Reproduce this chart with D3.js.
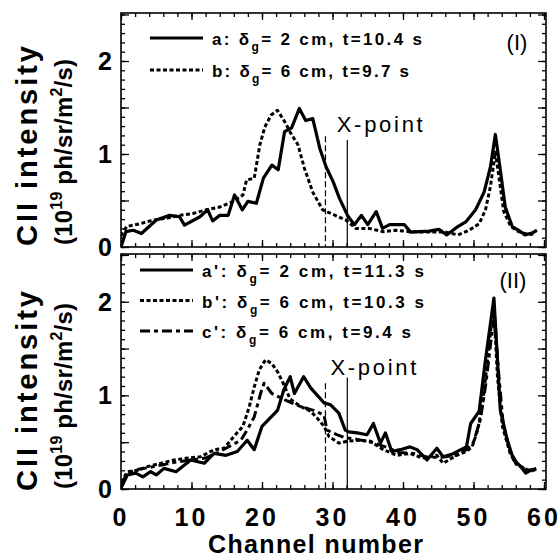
<!DOCTYPE html>
<html>
<head>
<meta charset="utf-8">
<script src="https://cdn.jsdelivr.net/npm/d3@7"></script>
<style>
body { margin: 0; background: #fff; }
text { font-family: "Liberation Sans", Arial, Helvetica, sans-serif; }
</style>
</head>
<body>
<div id="chart"></div>
<script>
// panel (I)
var chA = [0, 0.7, 1.75, 2.9, 5.0, 6.9, 8.3, 9.0, 11.2, 12.3, 13.0, 14.0, 15.2, 16.1, 17.2, 18.0, 19.2, 20.2, 21.4, 22.3, 23.2, 24.2, 25.3, 26.2, 27.2, 28.2, 29.1, 30.1, 31.0, 32.2, 33.1, 34.1, 35.0, 36.2, 37.1, 38.1, 39.2, 40.2, 41.1, 42.3, 43.7, 45.1, 46.2, 47.6, 48.9, 50.3, 51.5, 52.4, 53.1, 53.8, 54.5, 55.5, 56.4, 57.3, 58.3, 59.0];
var valA = [0, 0.165, 0.18, 0.145, 0.29, 0.34, 0.325, 0.235, 0.325, 0.40, 0.28, 0.34, 0.34, 0.56, 0.40, 0.49, 0.47, 0.74, 0.88, 0.83, 1.24, 1.28, 1.49, 1.36, 1.38, 1.06, 0.86, 0.70, 0.52, 0.33, 0.24, 0.34, 0.24, 0.38, 0.20, 0.24, 0.24, 0.24, 0.16, 0.165, 0.17, 0.19, 0.13, 0.21, 0.27, 0.40, 0.59, 0.86, 1.21, 0.83, 0.43, 0.22, 0.18, 0.13, 0.15, 0.18];
var chB = [0, 0.8, 2.7, 4.6, 6.5, 8.3, 10.2, 12.1, 14.0, 15.9, 17.3, 17.8, 18.9, 19.7, 20.4, 21.3, 22.2, 23.2, 24.1, 25.1, 26.0, 27.2, 28.6, 29.8, 31.9, 33.3, 35.2, 37.1, 39.0, 40.9, 43.7, 46.1, 47.8, 49.4, 50.8, 51.7, 52.4, 53.1, 53.8, 54.3, 55.3, 56.4, 57.9, 58.8];
var valB = [0.12, 0.22, 0.25, 0.29, 0.31, 0.34, 0.36, 0.40, 0.43, 0.49, 0.56, 0.72, 0.74, 1.10, 1.29, 1.42, 1.47, 1.35, 1.22, 1.10, 0.85, 0.59, 0.40, 0.36, 0.29, 0.20, 0.20, 0.165, 0.18, 0.165, 0.16, 0.16, 0.13, 0.18, 0.25, 0.40, 0.65, 1.02, 0.65, 0.38, 0.22, 0.165, 0.13, 0.15];

// panel (II)
var chA2 = [0, 0.9, 2.1, 3.1, 4.2, 5.0, 6.1, 7.8, 9.9, 11.8, 13.2, 14.9, 16.5, 17.9, 18.9, 20.0, 22.2, 23.1, 24.0, 24.6, 25.9, 26.9, 28.8, 29.7, 30.9, 31.8, 32.3, 33.5, 34.9, 35.8, 36.8, 37.5, 38.4, 39.6, 41.0, 42.0, 43.4, 44.8, 45.7, 46.9, 48.2, 49.0, 49.6, 50.8, 51.7, 52.9, 53.4, 53.8, 54.8, 55.7, 56.7, 57.4, 58.1, 58.9];
var valA2 = [0.01, 0.15, 0.17, 0.13, 0.185, 0.15, 0.22, 0.185, 0.31, 0.275, 0.38, 0.36, 0.40, 0.52, 0.42, 0.67, 0.84, 1.06, 1.20, 1.02, 1.20, 1.08, 0.92, 0.90, 0.81, 0.63, 0.61, 0.60, 0.58, 0.70, 0.49, 0.60, 0.40, 0.42, 0.45, 0.42, 0.31, 0.435, 0.345, 0.37, 0.42, 0.45, 0.70, 0.83, 1.38, 2.04, 1.38, 0.845, 0.52, 0.31, 0.24, 0.17, 0.20, 0.22];
var chB2 = [0, 0.9, 2.4, 3.8, 5.7, 7.5, 9.4, 11.3, 13.2, 14.6, 16.0, 17.3, 18.2, 18.9, 19.6, 20.5, 21.4, 22.3, 23.0, 24.0, 25.5, 26.9, 27.8, 28.8, 29.5, 30.9, 32.1, 33.9, 35.4, 37.2, 39.1, 41.0, 42.8, 44.8, 45.7, 47.6, 49.0, 49.8, 50.6, 51.3, 52.0, 52.5, 52.9, 53.4, 54.1, 55.2, 56.1, 57.2, 58.1, 58.9];
var valB2 = [0.07, 0.185, 0.20, 0.24, 0.275, 0.31, 0.33, 0.345, 0.42, 0.435, 0.56, 0.67, 0.88, 1.09, 1.27, 1.38, 1.34, 1.24, 1.13, 0.96, 0.88, 0.83, 0.76, 0.67, 0.56, 0.49, 0.51, 0.52, 0.51, 0.42, 0.36, 0.38, 0.33, 0.36, 0.275, 0.36, 0.40, 0.45, 0.63, 0.92, 1.38, 1.74, 1.91, 1.20, 0.67, 0.38, 0.26, 0.22, 0.19, 0.21];
var chC2 = [0, 1.0, 2.5, 4.0, 6.0, 8.0, 10.0, 12.0, 14.0, 15.5, 17.0, 17.9, 18.9, 19.8, 20.3, 20.7, 21.4, 22.5, 23.6, 25.5, 27.3, 28.8, 29.2, 30.6, 31.7, 33.5, 35.5, 37.5, 39.5, 41.5, 43.5, 45.5, 47.5, 49.0, 50.0, 51.0, 51.8, 52.5, 53.0, 53.5, 54.2, 55.2, 56.2, 57.5, 58.9];
var valC2 = [0.06, 0.17, 0.21, 0.23, 0.26, 0.29, 0.31, 0.33, 0.40, 0.46, 0.52, 0.63, 0.77, 1.02, 1.13, 1.09, 1.02, 0.98, 0.94, 0.88, 0.84, 0.79, 0.63, 0.58, 0.55, 0.53, 0.50, 0.45, 0.39, 0.38, 0.34, 0.34, 0.36, 0.42, 0.50, 0.75, 1.15, 1.60, 1.85, 1.30, 0.70, 0.40, 0.27, 0.20, 0.21];

var legendTop = [["a:", "= 2 cm, t=10.4 s"], ["b:", "= 6 cm, t=9.7 s"]];
var legendBottom = [["a':", "= 2 cm, t=11.3 s"], ["b':", "= 6 cm, t=10.3 s"], ["c':", "= 6 cm, t=9.4 s"]];

var xMajor = [0, 10, 20, 30, 40, 50, 60];
var yMajor = [0, 1, 2];
var markerDashed = 29.0, markerSolid = 32.1;

var W = 560, H = 560;
var svg = d3.select("#chart").append("svg").attr("width", W).attr("height", H);

var x = d3.scaleLinear().domain([0, 60]).range([121, 544]);
var xLeft = 121, xRight = 546;

var styles = {
    solid: {w: 3.2, dash: null},
    dot: {w: 3, dash: "4,2.5"},
    dashdot: {w: 3, dash: "10,4,4,4"}
};

function zip(c, v) { return c.map(function(d, i) { return [d, v[i]]; }); }

function panel(id, top, bottom, yMax, series, legend, legX, legY0, legDy, legW, tag, tagX, tagY, xpLabel, xpTop, showXLabels) {
    var y = d3.scaleLinear().domain([0, yMax]).range([bottom, top]);
    var g = svg.append("g");

    g.append("clipPath").attr("id", "clip" + id).append("rect")
        .attr("x", xLeft).attr("y", top).attr("width", xRight - xLeft).attr("height", bottom - top);

    // ticks, all pointing inward
    var minorX = d3.range(0, 61, 2), minorY = d3.range(0, yMax, 0.1);
    function ax(gen, vals, size, tr) {
        var a = g.append("g").attr("transform", tr)
            .call(gen.tickValues(vals).tickSize(size).tickFormat(""));
        a.select(".domain").remove();
        a.selectAll("line").attr("stroke", "#000").attr("stroke-width", 1.3);
    }
    ax(d3.axisBottom(x), minorX, -4, "translate(0," + bottom + ")");
    ax(d3.axisBottom(x), xMajor, -7, "translate(0," + bottom + ")");
    ax(d3.axisTop(x), minorX, -4, "translate(0," + top + ")");
    ax(d3.axisTop(x), xMajor, -7, "translate(0," + top + ")");
    ax(d3.axisLeft(y), minorY, -4, "translate(" + xLeft + ",0)");
    ax(d3.axisLeft(y), d3.range(0, yMax, 0.5), -8, "translate(" + xLeft + ",0)");
    ax(d3.axisRight(y), minorY, -4, "translate(" + xRight + ",0)");
    ax(d3.axisRight(y), d3.range(0, yMax, 0.5), -8, "translate(" + xRight + ",0)");

    g.append("rect").attr("x", xLeft).attr("y", top).attr("width", xRight - xLeft).attr("height", bottom - top)
        .attr("fill", "none").attr("stroke", "#000").attr("stroke-width", 1.6);

    // y tick labels
    g.selectAll(".ylab").data(yMajor).enter().append("text")
        .attr("x", 112).attr("y", function(d) { return y(d); }).attr("dy", "0.36em")
        .attr("text-anchor", "end").attr("font-size", 25).attr("font-weight", "bold")
        .text(function(d) { return d; });

    if (showXLabels) {
        g.selectAll(".xlab").data(xMajor).enter().append("text")
            .attr("x", function(d) { return x(d); }).attr("y", bottom + 37)
            .attr("text-anchor", "middle").attr("font-size", 25).attr("font-weight", "bold")
            .attr("letter-spacing", 3)
            .text(function(d) { return d; });
    }

    // X-point markers
    g.append("line").attr("x1", x(markerDashed)).attr("x2", x(markerDashed))
        .attr("y1", y(xpTop[0])).attr("y2", bottom)
        .attr("stroke", "#000").attr("stroke-width", 1.2).attr("stroke-dasharray", "6,3");
    g.append("line").attr("x1", x(markerSolid)).attr("x2", x(markerSolid))
        .attr("y1", y(xpTop[1])).attr("y2", bottom)
        .attr("stroke", "#000").attr("stroke-width", 1.2);
    g.append("text").attr("x", x(xpLabel[0])).attr("y", y(xpLabel[1]))
        .attr("font-size", 22).attr("textLength", 86).attr("lengthAdjust", "spacing")
        .text("X-point");

    var line = d3.line().x(function(d) { return x(d[0]); }).y(function(d) { return y(d[1]); });
    var lines = g.append("g").attr("clip-path", "url(#clip" + id + ")");
    series.forEach(function(s) {
        lines.append("path").datum(s.data).attr("d", line)
            .attr("fill", "none").attr("stroke", "#000")
            .attr("stroke-width", styles[s.style].w)
            .attr("stroke-dasharray", styles[s.style].dash)
            .attr("stroke-linejoin", "round");
    });

    // legend
    legend.forEach(function(l, i) {
        var ly = legY0 + i * legDy;
        var st = styles[series[i].style];
        g.append("line").attr("x1", legX).attr("x2", legX + 53).attr("y1", ly).attr("y2", ly)
            .attr("stroke", "#000").attr("stroke-width", st.w).attr("stroke-dasharray", st.dash);
        var t = g.append("text").attr("x", legX + 62).attr("y", ly + 7)
            .attr("font-size", 17).attr("font-weight", "bold")
            .attr("textLength", legW[i]).attr("lengthAdjust", "spacing");
        t.append("tspan").text(l[0] + " δ");
        t.append("tspan").attr("font-size", 12).attr("dy", 6).text("g");
        t.append("tspan").attr("dy", -6).text(l[1]);
    });

    g.append("text").attr("x", tagX).attr("y", tagY).attr("text-anchor", "middle")
        .attr("font-size", 22).text(tag);

    return y;
}

panel(1, 13, 247, 2.516,
    [{data: zip(chA, valA), style: "solid"}, {data: zip(chB, valB), style: "dot"}],
    legendTop, 150, 38, 32, [210, 197], "(I)", 517, 50, [30.6, 1.24], [1.19, 1.15], false);

panel(2, 254, 489, 2.51,
    [{data: zip(chA2, valA2), style: "solid"}, {data: zip(chB2, valB2), style: "dot"}, {data: zip(chC2, valC2), style: "dashdot"}],
    legendBottom, 140, 270, 30.5, [222, 222, 209], "(II)", 513, 288, [29.7, 1.22], [1.13, 1.19], true);

// axis titles
svg.append("text").attr("x", 208).attr("y", 553)
    .attr("font-size", 25).attr("font-weight", "bold")
    .attr("textLength", 215).attr("lengthAdjust", "spacing")
    .text("Channel number");

[[146, 152], [391, 396]].forEach(function(c) {
    svg.append("text").attr("transform", "translate(37," + c[0] + ") rotate(-90)")
        .attr("text-anchor", "middle").attr("font-size", 29).attr("font-weight", "bold")
        .attr("textLength", 200).attr("lengthAdjust", "spacing").text("CII intensity");
    var t = svg.append("text").attr("transform", "translate(72," + c[1] + ") rotate(-90)")
        .attr("text-anchor", "middle").attr("font-size", 24).attr("font-weight", "bold")
        .attr("textLength", 186).attr("lengthAdjust", "spacing");
    t.append("tspan").text("(10");
    t.append("tspan").attr("font-size", 16).attr("dy", -10).text("19");
    t.append("tspan").attr("dy", 10).text(" ph/sr/m");
    t.append("tspan").attr("font-size", 16).attr("dy", -10).text("2");
    t.append("tspan").attr("dy", 10).text("/s)");
});
</script>
</body>
</html>
